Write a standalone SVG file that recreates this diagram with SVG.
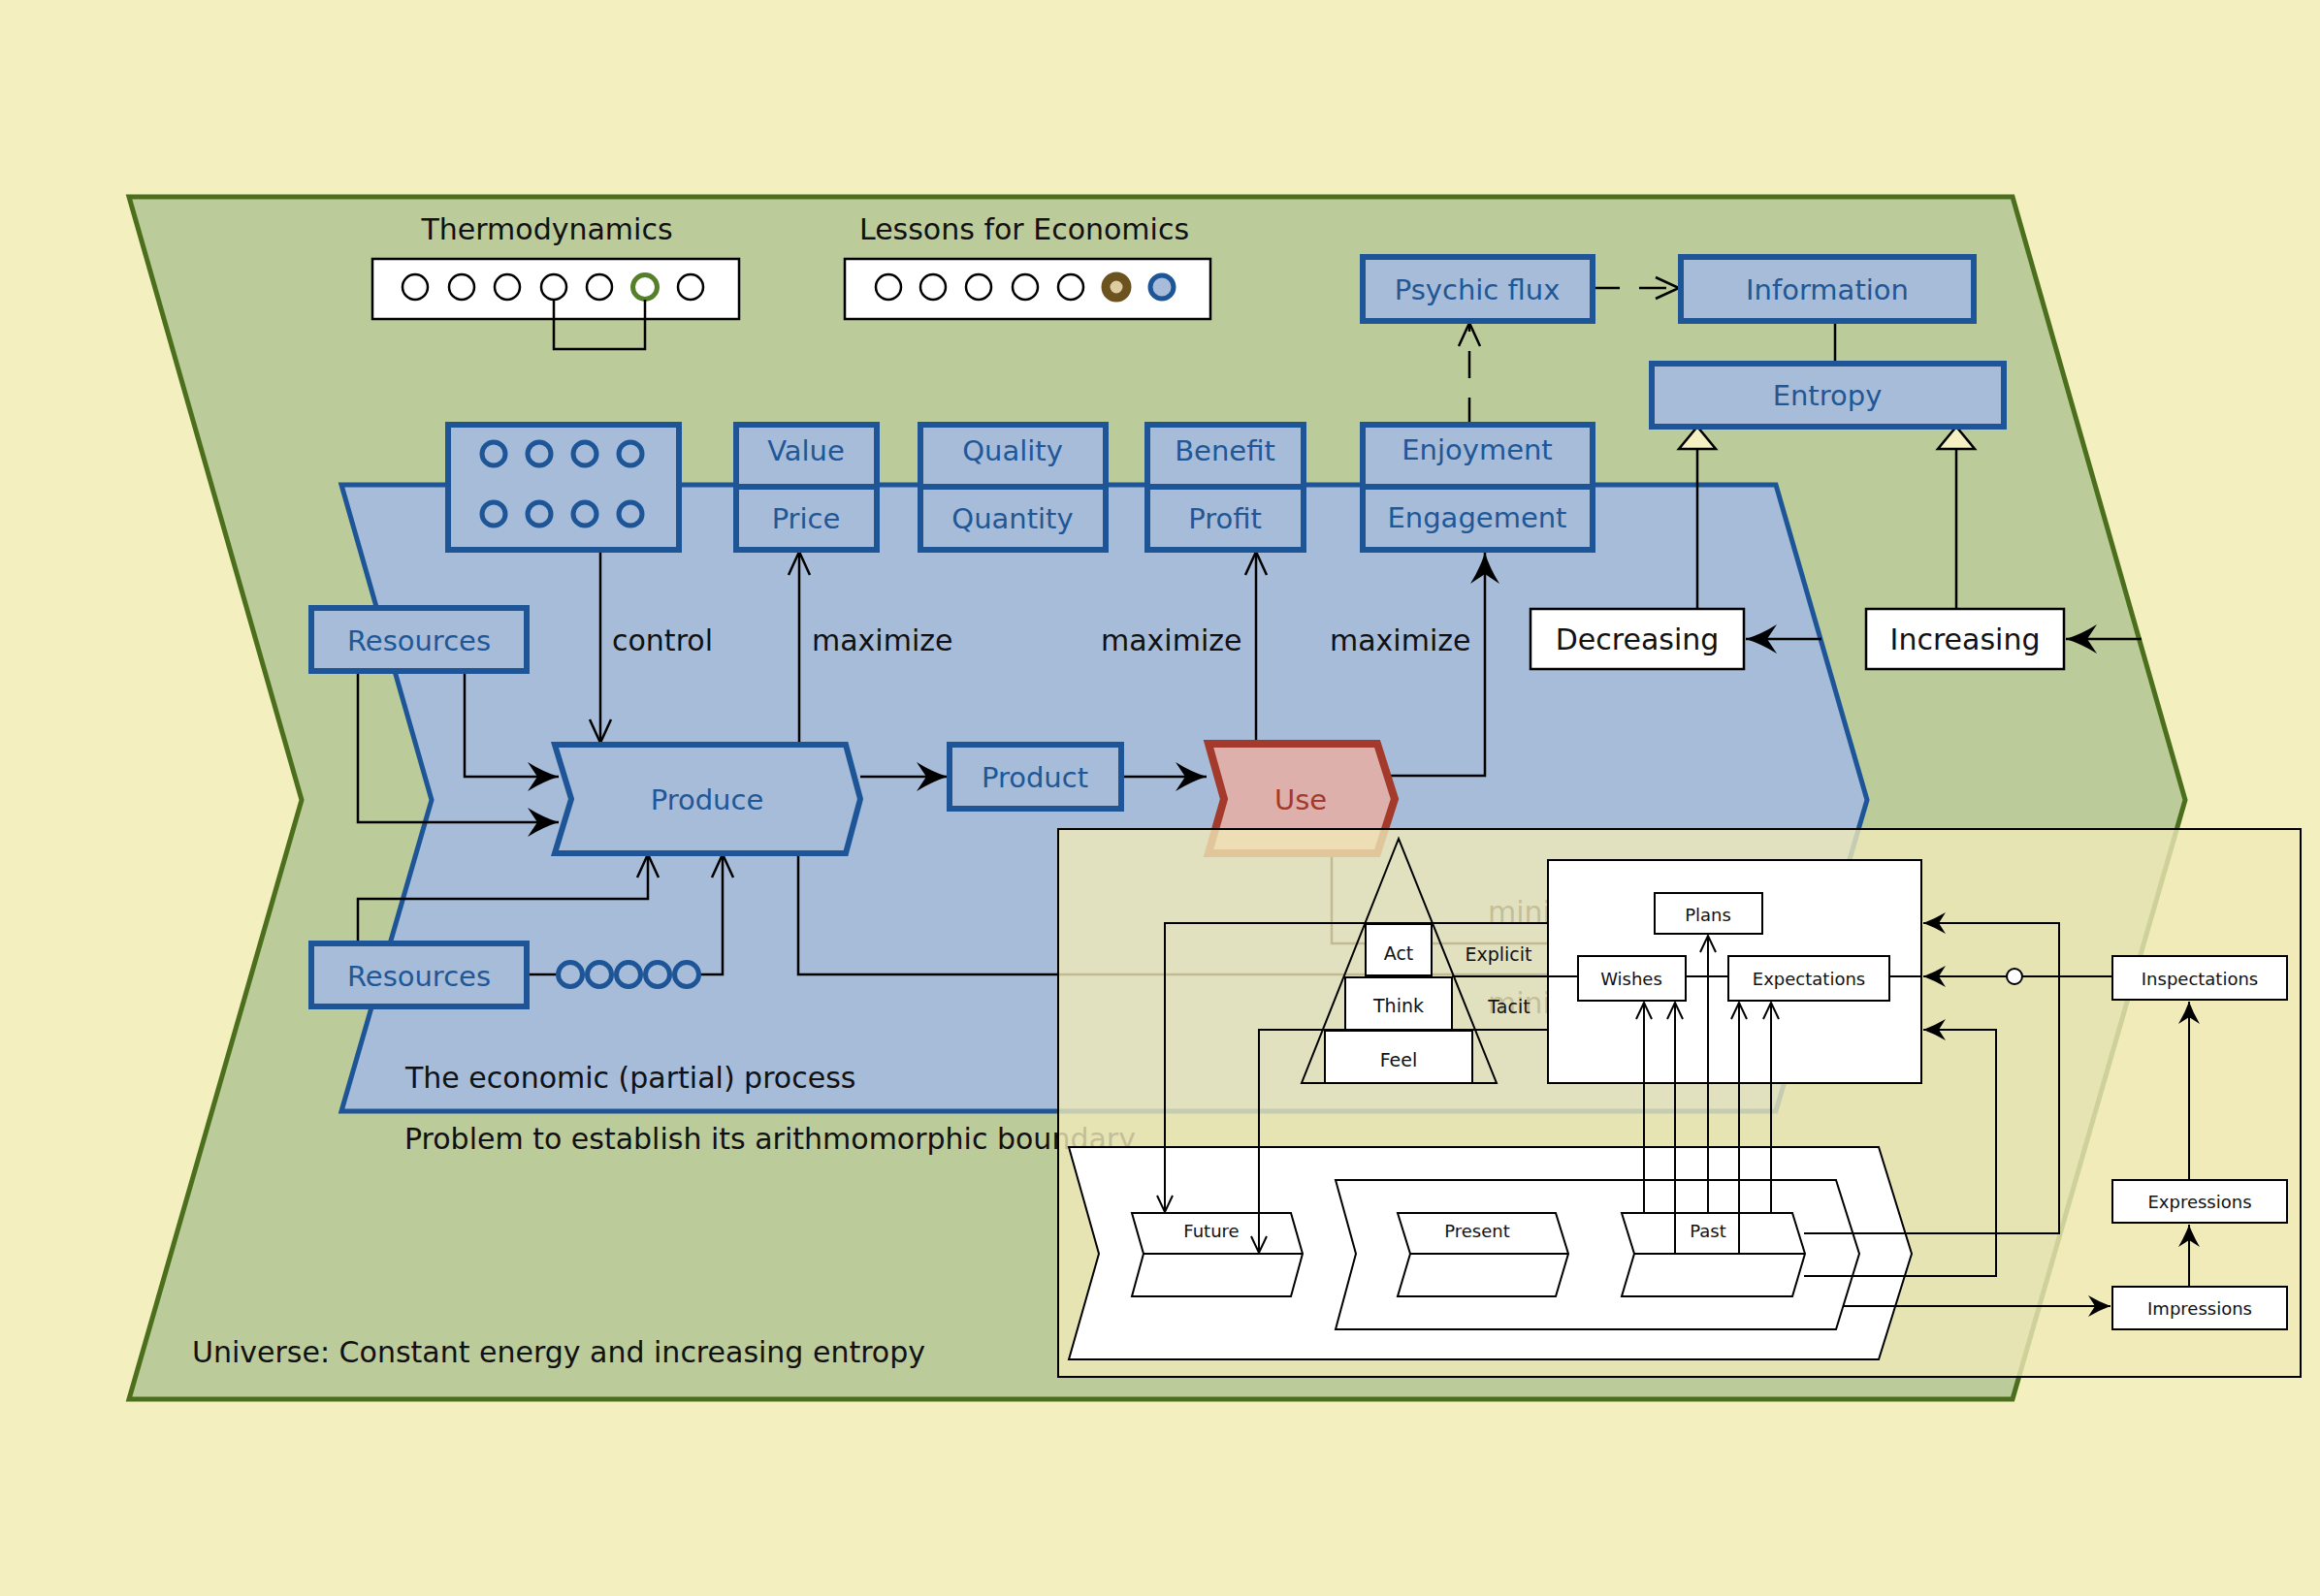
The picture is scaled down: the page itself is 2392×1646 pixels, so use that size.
<svg xmlns="http://www.w3.org/2000/svg" width="2392" height="1646" viewBox="0 0 2392 1646">
<style>
text{font-family:"DejaVu Sans","Liberation Sans",sans-serif}
.t30{font-size:30px;fill:#111}
.bt{font-size:29px;fill:#1f5797;text-anchor:middle}
.bb{fill:#a6bcd9;stroke:#1d5597;stroke-width:6}
.wb{fill:#fff;stroke:#000;stroke-width:2.5}
.ln{fill:none;stroke:#000;stroke-width:2.5}
.sl{fill:none;stroke:#000;stroke-width:2}
.sw{fill:#fff;stroke:#000;stroke-width:2}
.st{font-size:18px;fill:#111;text-anchor:middle}
.c0{fill:#fff;stroke:#000;stroke-width:2.5}
.cb{fill:none;stroke:#1d5597;stroke-width:5}
.dash{stroke-dasharray:28 20}
</style>
<defs>
<marker id="aF" markerUnits="userSpaceOnUse" markerWidth="40" markerHeight="40" refX="0" refY="0" orient="auto" style="overflow:visible"><path d="M0,0 Q-16,-5 -32,-15 L-22,0 L-32,15 Q-16,5 0,0 Z" fill="#000"/></marker>
<marker id="aO" markerUnits="userSpaceOnUse" markerWidth="40" markerHeight="40" refX="0" refY="0" orient="auto" style="overflow:visible"><path d="M-24,-11 L0,0 L-24,11" fill="none" stroke="#000" stroke-width="2.5"/></marker>
<marker id="sF" markerUnits="userSpaceOnUse" markerWidth="30" markerHeight="30" refX="0" refY="0" orient="auto" style="overflow:visible"><path d="M0,0 Q-11,-4 -23,-11 L-16,0 L-23,11 Q-11,4 0,0 Z" fill="#000"/></marker>
<marker id="sO" markerUnits="userSpaceOnUse" markerWidth="30" markerHeight="30" refX="0" refY="0" orient="auto" style="overflow:visible"><path d="M-17,-8 L0,0 L-17,8" fill="none" stroke="#000" stroke-width="2"/></marker>
<marker id="tri" markerUnits="userSpaceOnUse" markerWidth="40" markerHeight="40" refX="0" refY="0" orient="auto" style="overflow:visible"><path d="M0,0 L-23,-19 L-23,19 Z" fill="#f4f0c2" stroke="#000" stroke-width="2.5"/></marker>
</defs>
<rect width="2392" height="1646" fill="#f3efbf"/>
<g id="universe">
<polygon points="133,203 2075,203 2253,825 2075,1443 133,1443 311,825" fill="#bccb9a" stroke="#4c6f1e" stroke-width="5"/>
<text class="t30" x="198" y="1405">Universe: Constant energy and increasing entropy</text>
</g>
<g id="thermodynamics">
<text class="t30" x="564" y="247" text-anchor="middle">Thermodynamics</text>
<rect class="wb" x="384" y="267" width="378" height="62"/>
<circle class="c0" cx="428" cy="296" r="13"/><circle class="c0" cx="476" cy="296" r="13"/><circle class="c0" cx="523" cy="296" r="13"/><circle class="c0" cx="571" cy="296" r="13"/><circle class="c0" cx="618" cy="296" r="13"/>
<circle cx="665" cy="296" r="12.5" fill="#fff" stroke="#567f29" stroke-width="5"/>
<circle class="c0" cx="712" cy="296" r="13"/>
<path class="ln" d="M571,309 V360 H665 V309"/>
</g>
<g id="lessons">
<text class="t30" x="1056" y="247" text-anchor="middle">Lessons for Economics</text>
<rect class="wb" x="871" y="267" width="377" height="62"/>
<circle class="c0" cx="916" cy="296" r="13"/><circle class="c0" cx="962" cy="296" r="13"/><circle class="c0" cx="1009" cy="296" r="13"/><circle class="c0" cx="1057" cy="296" r="13"/><circle class="c0" cx="1104" cy="296" r="13"/>
<circle cx="1151" cy="296" r="11" fill="#dccca0" stroke="#6b521f" stroke-width="9"/>
<circle cx="1198" cy="296" r="12" fill="#a6bcd9" stroke="#1d5597" stroke-width="5"/>
</g>
<g id="process">
<polygon points="352,500 1831,500 1925,825 1831,1146 352,1146 445,825" fill="#a6bcd9" stroke="#1d5597" stroke-width="5"/>
<text class="t30" x="418" y="1122">The economic (partial) process</text>
</g>
<text class="t30" x="417" y="1185">Problem to establish its arithmomorphic boundary</text>
<g id="connectors">
<path class="ln" d="M479,692 V801 H576" marker-end="url(#aF)"/>
<path class="ln" d="M369,692 V848 H576" marker-end="url(#aF)"/>
<path class="ln" d="M369,973 V927 H668 V881" marker-end="url(#aO)"/>
<path class="ln" d="M543,1005 H576 M720,1005 H745 V881" marker-end="url(#aO)"/>
<path class="ln" d="M619,567 V766" marker-end="url(#aO)"/>
<path class="ln" d="M824,768 V569" marker-end="url(#aO)"/>
<path class="ln" d="M887,801 H977" marker-end="url(#aF)"/>
<path class="ln" d="M1156,801 H1244" marker-end="url(#aF)"/>
<path class="ln" d="M1295,767 V569" marker-end="url(#aO)"/>
<path class="ln" d="M1430,800 H1531 V570" marker-end="url(#aF)"/>
<path class="ln" d="M823,880 V1005 H1610"/>
<path class="ln" d="M1373,880 V973 H1610"/>
<path class="ln dash" d="M1642,297 H1731" marker-end="url(#aO)"/>
<path class="ln dash" d="M1515,438 V333" marker-end="url(#aO)"/>
<path class="ln" d="M1892,331 V375"/>
<path class="ln" d="M1750,628 V440" marker-end="url(#tri)"/>
<path class="ln" d="M2017,628 V440" marker-end="url(#tri)"/>
<path class="ln" d="M1878,659 H1800" marker-end="url(#aF)"/>
<path class="ln" d="M2208,659 H2130" marker-end="url(#aF)"/>
<text class="t30" x="631" y="671">control</text>
<text class="t30" x="837" y="671">maximize</text>
<text class="t30" x="1135" y="671">maximize</text>
<text class="t30" x="1371" y="671">maximize</text>
<text class="t30" x="1534" y="951">minimize</text>
<text class="t30" x="1534" y="1045">minimize</text>
</g>
<g id="control-box">
<rect class="bb" x="462" y="438" width="238" height="129"/>
<circle class="cb" cx="509" cy="468" r="12"/><circle class="cb" cx="556" cy="468" r="12"/><circle class="cb" cx="603" cy="468" r="12"/><circle class="cb" cx="650" cy="468" r="12"/>
<circle class="cb" cx="509" cy="530" r="12"/><circle class="cb" cx="556" cy="530" r="12"/><circle class="cb" cx="603" cy="530" r="12"/><circle class="cb" cx="650" cy="530" r="12"/>
</g>
<g id="value-price">
<rect class="bb" x="759" y="438" width="145" height="129"/><line x1="759" y1="502" x2="904" y2="502" stroke="#1d5597" stroke-width="6"/>
<text class="bt" x="831" y="475">Value</text><text class="bt" x="831" y="545">Price</text>
</g>
<g id="quality-quantity">
<rect class="bb" x="949" y="438" width="191" height="129"/><line x1="949" y1="502" x2="1140" y2="502" stroke="#1d5597" stroke-width="6"/>
<text class="bt" x="1044" y="475">Quality</text><text class="bt" x="1044" y="545">Quantity</text>
</g>
<g id="benefit-profit">
<rect class="bb" x="1183" y="438" width="161" height="129"/><line x1="1183" y1="502" x2="1344" y2="502" stroke="#1d5597" stroke-width="6"/>
<text class="bt" x="1263" y="475">Benefit</text><text class="bt" x="1263" y="545">Profit</text>
</g>
<g id="enjoyment-engagement">
<rect class="bb" x="1405" y="438" width="237" height="129"/><line x1="1405" y1="502" x2="1642" y2="502" stroke="#1d5597" stroke-width="6"/>
<text class="bt" x="1523" y="474">Enjoyment</text><text class="bt" x="1523" y="544">Engagement</text>
</g>
<g id="psychic-flux"><rect class="bb" x="1405" y="265" width="237" height="66"/><text class="bt" x="1523" y="309">Psychic flux</text></g>
<g id="information"><rect class="bb" x="1733" y="265" width="302" height="66"/><text class="bt" x="1884" y="309">Information</text></g>
<g id="entropy"><rect class="bb" x="1703" y="375" width="363" height="65"/><text class="bt" x="1884" y="418">Entropy</text></g>
<g id="decreasing"><rect class="wb" x="1578" y="628" width="220" height="62"/><text class="t30" x="1688" y="670" text-anchor="middle">Decreasing</text></g>
<g id="increasing"><rect class="wb" x="1924" y="628" width="204" height="62"/><text class="t30" x="2026" y="670" text-anchor="middle">Increasing</text></g>
<g id="resources-1"><rect class="bb" x="321" y="627" width="222" height="65"/><text class="bt" x="432" y="671">Resources</text></g>
<g id="resources-2"><rect class="bb" x="321" y="973" width="222" height="65"/><text class="bt" x="432" y="1017">Resources</text>
<circle class="cb" cx="588" cy="1005" r="12.5"/><circle class="cb" cx="618" cy="1005" r="12.5"/><circle class="cb" cx="648" cy="1005" r="12.5"/><circle class="cb" cx="678" cy="1005" r="12.5"/><circle class="cb" cx="708" cy="1005" r="12.5"/>
</g>
<g id="produce"><polygon points="572,768 872,768 887,824 872,880 572,880 589,824" fill="#a6bcd9" stroke="#1d5597" stroke-width="6"/><text class="bt" x="729" y="835">Produce</text></g>
<g id="product"><rect class="bb" x="979" y="768" width="177" height="66"/><text class="bt" x="1067" y="812">Product</text></g>
<g id="use"><polygon points="1246,767 1420,767 1438,824 1420,880 1246,880 1262,824" fill="#deb0ac" stroke="#a33a2c" stroke-width="8"/><text class="bt" x="1341" y="835" style="fill:#a33a2c">Use</text></g>
<g id="overlay">
<rect x="1091" y="855" width="1281" height="565" fill="#f0eab9" fill-opacity="0.8" stroke="#000" stroke-width="2"/>
<g id="time">
<polygon class="sw" points="1102,1183 1937,1183 1971,1293 1937,1402 1102,1402 1133,1293"/>
<polygon class="sw" points="1377,1217 1893,1217 1917,1293 1893,1371 1377,1371 1398,1293"/>
</g>
<g id="future"><polygon class="sw" points="1167,1251 1331,1251 1343,1293 1331,1337 1167,1337 1179,1293"/><path class="sl" d="M1179,1293 H1343"/><text class="st" x="1249" y="1276">Future</text></g>
<g id="present"><polygon class="sw" points="1441,1251 1604,1251 1617,1293 1604,1337 1441,1337 1454,1293"/><path class="sl" d="M1454,1293 H1617"/><text class="st" x="1523" y="1276">Present</text></g>
<g id="past"><polygon class="sw" points="1672,1251 1848,1251 1861,1293 1848,1337 1672,1337 1685,1293"/><path class="sl" d="M1685,1293 H1861"/><text class="st" x="1761" y="1276">Past</text></g>
<g id="mind"><rect class="sw" x="1596" y="887" width="385" height="230"/></g>
<g id="overlay-connectors">
<path class="sl" d="M1596,952 H1201 V1250" marker-end="url(#sO)"/>
<path class="sl" d="M1596,1062 H1298 V1292" marker-end="url(#sO)"/>
<path class="sl" d="M1497,1007 H1627 M1738,1007 H1782 M1948,1007 H1981"/>
<path class="sl" d="M1695,1251 V1034" marker-end="url(#sO)"/>
<path class="sl" d="M1727,1293 V1034" marker-end="url(#sO)"/>
<path class="sl" d="M1761,1251 V965" marker-end="url(#sO)"/>
<path class="sl" d="M1793,1293 V1034" marker-end="url(#sO)"/>
<path class="sl" d="M1826,1251 V1034" marker-end="url(#sO)"/>
<path class="sl" d="M1860,1272 H2123 V952 H1983" marker-end="url(#sF)"/>
<path class="sl" d="M2178,1007 H1983" marker-end="url(#sF)"/>
<circle cx="2077" cy="1007" r="8" fill="#fff" stroke="#000" stroke-width="2"/>
<path class="sl" d="M1860,1316 H2058 V1062 H1983" marker-end="url(#sF)"/>
<path class="sl" d="M1901,1347 H2176" marker-end="url(#sF)"/>
<path class="sl" d="M2257,1327 V1263" marker-end="url(#sF)"/>
<path class="sl" d="M2257,1217 V1033" marker-end="url(#sF)"/>
<text class="st" x="1545" y="991" style="font-size:19px">Explicit</text>
<text class="st" x="1556" y="1045" style="font-size:19px">Tacit</text>
</g>
<g id="pyramid">
<polygon class="sl" points="1442,865 1342,1117 1543,1117"/>
<g id="act"><rect class="sw" x="1408" y="953" width="68" height="53"/><text class="st" x="1442" y="990" style="font-size:19px">Act</text></g>
<g id="think"><rect class="sw" x="1387" y="1008" width="110" height="54"/><text class="st" x="1442" y="1044" style="font-size:19px">Think</text></g>
<g id="feel"><rect class="sw" x="1366" y="1063" width="152" height="54"/><text class="st" x="1442" y="1100" style="font-size:19px">Feel</text></g>
</g>
<g id="plans"><rect class="sw" x="1706" y="921" width="111" height="42"/><text class="st" x="1761" y="950">Plans</text></g>
<g id="wishes"><rect class="sw" x="1627" y="986" width="111" height="46"/><text class="st" x="1682" y="1016">Wishes</text></g>
<g id="expectations"><rect class="sw" x="1782" y="986" width="166" height="46"/><text class="st" x="1865" y="1016">Expectations</text></g>
<g id="inspectations"><rect class="sw" x="2178" y="986" width="180" height="45"/><text class="st" x="2268" y="1016">Inspectations</text></g>
<g id="expressions"><rect class="sw" x="2178" y="1217" width="180" height="44"/><text class="st" x="2268" y="1246">Expressions</text></g>
<g id="impressions"><rect class="sw" x="2178" y="1327" width="180" height="44"/><text class="st" x="2268" y="1356">Impressions</text></g>
</g>
</svg>
